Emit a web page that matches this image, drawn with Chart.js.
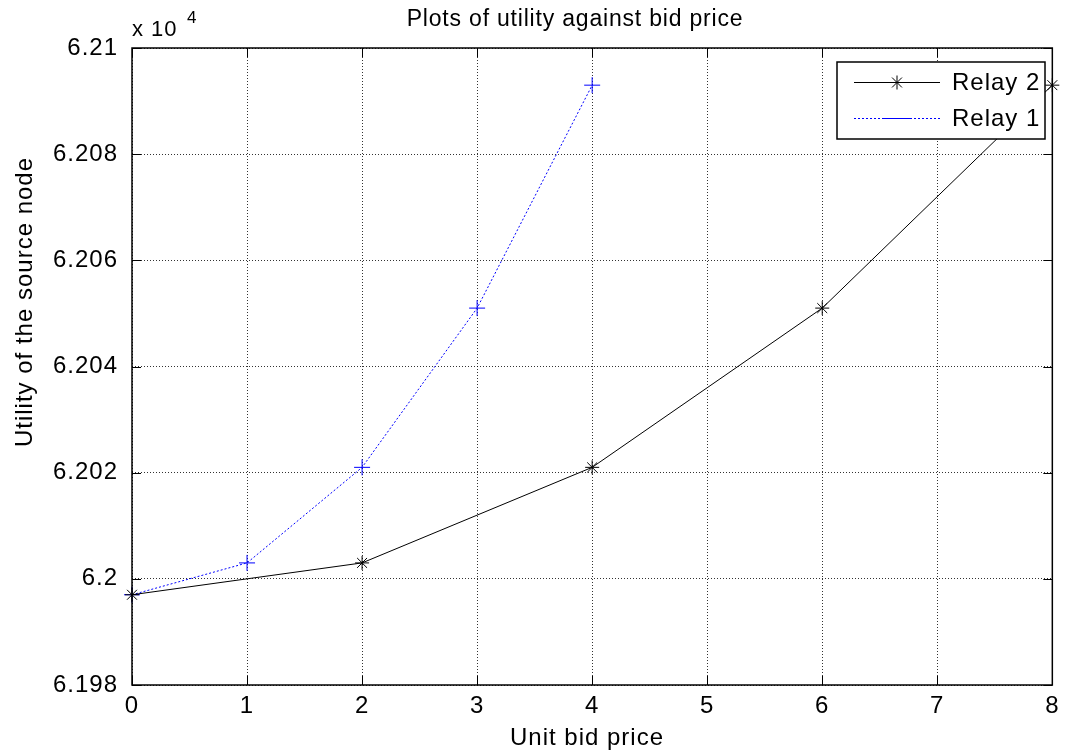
<!DOCTYPE html>
<html>
<head>
<meta charset="utf-8">
<title>Plots of utility against bid price</title>
<script src="https://cdn.jsdelivr.net/npm/chart.js@4.4.1/dist/chart.umd.min.js"></script>
<style>
  html, body { margin: 0; padding: 0; background: #fff; }
  #wrap { width: 1066px; height: 753px; position: relative; }
</style>
</head>
<body>
<div id="wrap"><canvas id="chart" width="1066" height="753"></canvas></div>
<script>
// datos (utilidad en unidades reales, el eje muestra x 10^4)
const relay1Price = [0, 1, 2, 3, 4];
const relay1Utility = [61997, 62003, 62021, 62051, 62093];
const relay2Price = [0, 2, 4, 6, 8];
const relay2Utility = [61997, 62003, 62021, 62051, 62093];
const xTicks = [0, 1, 2, 3, 4, 5, 6, 7, 8];
const yTicks = [61980, 62000, 62020, 62040, 62060, 62080, 62100];

const FONT = 'Arial, "Liberation Sans", Helvetica, sans-serif';
const PLOT = { left: 132, top: 48, right: 1055, bottom: 685 };

function puntos(xs, ys) {
    return xs.map((x, i) => ({ x: x, y: ys[i] }));
}

// Marco, ticks interiores, textos y leyenda al estilo MATLAB
const matlabPlugin = {
    id: 'matlabFrame',
    beforeDraw(chart) {
        // la fuente de MATLAB sale algo mas ancha
        chart.ctx.letterSpacing = '1px';
    },
    afterDraw(chart) {
        const ctx = chart.ctx;
        const a = chart.chartArea;
        const xs = chart.scales.x;
        const ys = chart.scales.y;
        ctx.save();

        // ticks hacia dentro
        ctx.strokeStyle = '#000';
        ctx.lineWidth = 1;
        ctx.setLineDash([]);
        ctx.beginPath();
        xTicks.forEach(v => {
            const px = Math.round(xs.getPixelForValue(v)) + 0.5;
            ctx.moveTo(px, a.bottom); ctx.lineTo(px, a.bottom - 9);
            ctx.moveTo(px, a.top); ctx.lineTo(px, a.top + 9);
        });
        yTicks.forEach(v => {
            const py = Math.round(ys.getPixelForValue(v)) + 0.5;
            ctx.moveTo(a.left, py); ctx.lineTo(a.left + 9, py);
            ctx.moveTo(a.right, py); ctx.lineTo(a.right - 9, py);
        });
        ctx.stroke();

        // caja
        ctx.lineWidth = 1.5;
        ctx.strokeRect(a.left, a.top, a.right - a.left, a.bottom - a.top);

        // titulo
        ctx.fillStyle = '#000';
        ctx.letterSpacing = '0.8px';
        ctx.font = '23px ' + FONT;
        ctx.textAlign = 'center';
        ctx.textBaseline = 'middle';
        ctx.fillText('Plots of utility against bid price', 575, 20);

        // titulos de ejes
        ctx.letterSpacing = '1px';
        ctx.font = '24px ' + FONT;
        ctx.fillText('Unit bid price', 587, 738);
        ctx.save();
        ctx.translate(25, 302);
        ctx.rotate(-Math.PI / 2);
        ctx.fillText('Utility of the source node', 0, 0);
        ctx.restore();

        // multiplicador x 10^4
        ctx.textAlign = 'left';
        ctx.textBaseline = 'alphabetic';
        ctx.font = '22px ' + FONT;
        ctx.fillText('x 10', 132, 36);
        ctx.font = '17px ' + FONT;
        ctx.fillText('4', 187, 23);

        // leyenda
        const lx = 837, ly = 62, lw = 208, lh = 77;
        ctx.fillStyle = '#fff';
        ctx.fillRect(lx, ly, lw, lh);
        ctx.lineWidth = 1.5;
        ctx.strokeRect(lx, ly, lw, lh);

        const filas = [
            { ds: chart.data.datasets[0], y: 82 },
            { ds: chart.data.datasets[1], y: 118 }
        ];
        filas.forEach(f => {
            ctx.strokeStyle = f.ds.borderColor;
            ctx.lineWidth = 1;
            ctx.setLineDash(f.ds.borderDash || []);
            ctx.beginPath();
            ctx.moveTo(854, f.y + 0.5);
            ctx.lineTo(940, f.y + 0.5);
            ctx.stroke();
            ctx.setLineDash([]);
            if (f.ds.pointStyle === 'star') {
                Chart.helpers.drawPoint(ctx, { pointStyle: 'star', radius: 7, borderWidth: 1 }, 897, f.y + 0.5);
            } else {
                ctx.beginPath();
                ctx.moveTo(884, f.y + 0.5);
                ctx.lineTo(912, f.y + 0.5);
                ctx.stroke();
            }
            ctx.fillStyle = '#000';
            ctx.font = '24px ' + FONT;
            ctx.textAlign = 'left';
            ctx.textBaseline = 'middle';
            ctx.fillText(f.ds.label, 952, f.y + 1);
        });

        ctx.restore();
    }
};

const ctx = document.getElementById('chart').getContext('2d');
new Chart(ctx, {
    type: 'scatter',
    data: {
        datasets: [
            {
                label: 'Relay 2',
                data: puntos(relay2Price, relay2Utility),
                showLine: true,
                borderColor: '#000000',
                backgroundColor: '#000000',
                borderWidth: 1,
                pointStyle: 'star',
                pointRadius: 7,
                pointBorderWidth: 1,
                pointHoverRadius: 7,
                clip: false
            },
            {
                label: 'Relay 1',
                data: puntos(relay1Price, relay1Utility),
                showLine: true,
                borderColor: '#0000ff',
                backgroundColor: '#0000ff',
                borderWidth: 1,
                borderDash: [2, 2],
                pointStyle: 'cross',
                pointRadius: 8,
                pointBorderWidth: 1,
                pointHoverRadius: 8,
                clip: false
            }
        ]
    },
    options: {
        responsive: false,
        animation: false,
        layout: {
            padding: { left: 0, top: PLOT.top, right: 1066 - PLOT.right, bottom: 0 }
        },
        plugins: {
            legend: { display: false },
            title: { display: false },
            tooltip: { enabled: false }
        },
        scales: {
            x: {
                type: 'linear',
                min: 0,
                max: 8,
                afterFit: s => { s.height = 753 - PLOT.bottom; },
                afterBuildTicks: s => { s.ticks = xTicks.map(v => ({ value: v })); },
                ticks: {
                    color: '#000',
                    font: { family: FONT, size: 24 },
                    padding: 7,
                    maxRotation: 0,
                    autoSkip: false
                },
                grid: {
                    color: 'rgba(0,0,0,0.8)',
                    lineWidth: 1,
                    drawTicks: false
                },
                border: { display: false, dash: [1, 2] }
            },
            y: {
                type: 'linear',
                min: 61980,
                max: 62100,
                afterFit: s => { s.width = PLOT.left; },
                afterBuildTicks: s => { s.ticks = yTicks.map(v => ({ value: v })); },
                ticks: {
                    color: '#000',
                    font: { family: FONT, size: 24 },
                    padding: 14,
                    callback: v => String(parseFloat((v / 1e4).toFixed(4)))
                },
                grid: {
                    color: 'rgba(0,0,0,0.8)',
                    lineWidth: 1,
                    drawTicks: false
                },
                border: { display: false, dash: [1, 2] }
            }
        }
    },
    plugins: [matlabPlugin]
});
</script>
</body>
</html>
